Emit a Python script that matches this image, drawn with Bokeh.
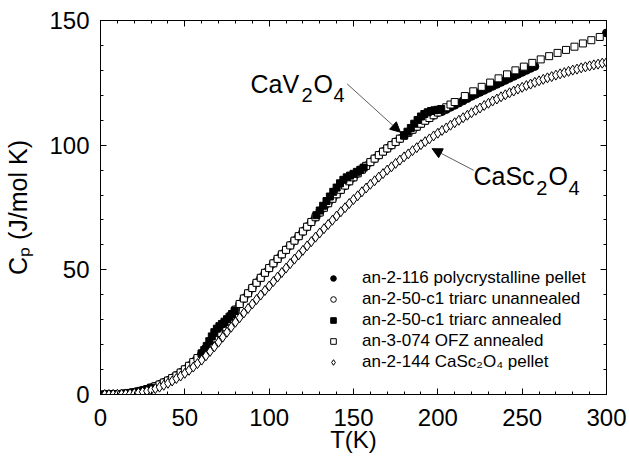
import math
from bokeh.plotting import figure
from bokeh.models import (Range1d, LinearAxis, SingleIntervalTicker, Legend, LegendItem,
                          Label, Arrow, NormalHead)
from bokeh.embed import file_html
from bokeh.resources import INLINE

FONT = "Liberation Sans"

# ---------------- data ----------------
# an-3-074 OFZ annealed (open squares): dense part T = 2.5 ... 210 K, step 2.5
ofz_cp_dense = [0.01, 0.03, 0.06, 0.12, 0.22, 0.38, 0.58, 0.85, 1.2, 1.6,
                2.1, 2.7, 3.3, 4.0, 4.8, 5.6, 6.6, 7.6, 8.8, 10.1,
                11.5, 13.0, 14.6, 16.3, 18.3, 20.3, 22.5, 24.7, 27.0, 29.3,
                31.6, 34.0, 36.3, 38.5, 40.6, 42.7, 44.8, 46.8, 48.8, 50.7,
                52.6, 54.4, 56.2, 58.0, 59.8, 61.7, 63.5, 65.4, 67.3, 69.2,
                71.1, 73.0, 74.9, 76.7, 78.5, 80.3, 82.1, 83.8, 85.5, 87.1,
                88.7, 90.2, 91.7, 93.2, 94.6, 96.0, 97.4, 98.7, 100.0, 101.3,
                102.6, 103.8, 105.0, 106.2, 107.4, 108.6, 109.8, 110.9, 112.0, 113.1,
                114.2, 115.2, 116.3, 117.3]
ofz_t_dense = [2.5 * (i + 1) for i in range(len(ofz_cp_dense))]
# sparse part
ofz_t_sparse = [216, 221, 226, 231, 236, 241, 246, 251, 256, 261, 266, 271, 276, 281, 286, 291, 296]
ofz_cp_sparse = [119.7, 121.6, 123.4, 125.1, 126.8, 128.4, 130.0, 131.5, 133.0, 134.4,
                 135.7, 137.0, 138.2, 139.5, 140.8, 142.1, 143.4]

# an-2-116 polycrystalline pellet (filled circles): T = 2.5 ... 257.5 K step 2.5, plus 300 K
pellet_cp = [0.01, 0.03, 0.06, 0.12, 0.22, 0.38, 0.58, 0.85, 1.2, 1.6,
             2.1, 2.7, 3.3, 4.0, 4.8, 5.6, 6.6, 7.6, 8.8, 10.1,
             11.5, 13.0, 14.6, 16.3, 18.3, 20.3, 22.5, 24.7, 27.0, 29.3,
             31.6, 34.0, 36.3, 38.5, 40.6, 42.7, 44.8, 46.8, 48.8, 50.7,
             52.6, 54.4, 56.2, 58.0, 59.8, 61.7, 63.5, 65.4, 67.3, 69.2,
             71.1, 73.0, 74.9, 76.7, 78.5, 80.3, 82.1, 83.8, 85.5, 87.1,
             88.7, 90.2, 91.7, 93.2, 94.6, 96.0, 97.4, 98.7, 100.0, 101.3,
             102.6, 103.8, 105.0, 106.2, 107.4, 108.6, 109.8, 110.9, 112.0, 113.1,
             113.5, 114.3, 115.2, 116.0, 116.9, 117.8, 118.7, 119.6, 120.4, 121.2,
             122.0, 122.8, 123.6, 124.4, 125.2, 126.0, 126.8, 127.6, 128.4, 129.2,
             130.0, 130.8, 131.6]
pellet_t = [2.5 * (i + 1) for i in range(len(pellet_cp))] + [300]
pellet_cp = pellet_cp + [145.0]

# an-2-50-c1 triarc unannealed (open circles)
unann_t = [4, 8, 12, 16, 20, 24, 28, 32, 36, 40, 44, 48, 52, 56]
unann_cp = [0.02, 0.08, 0.2, 0.45, 0.85, 1.45, 2.2, 3.2, 4.3, 5.6, 7.2, 9.0, 11.3, 13.6]

# an-2-50-c1 triarc annealed (filled squares)
ann_t = [2, 4, 6, 8, 10, 12, 14, 16, 18, 20, 22, 24, 26, 28, 30,
         60, 61.5, 63, 64.5, 66, 67.5, 69, 70.5, 72, 73.5, 75, 76.5, 78, 79.5,
         128, 130, 132, 134, 136, 138, 140, 142, 144, 146, 148, 150, 152, 154, 156,
         180, 182, 184, 186, 188, 190, 192, 194, 196, 198, 200, 202]
ann_cp = [0.0, 0.02, 0.05, 0.08, 0.12, 0.2, 0.3, 0.45, 0.65, 0.85, 1.15, 1.45, 1.8, 2.2, 2.7,
          16.5, 17.8, 19.5, 21.4, 23.3, 25.0, 26.4, 27.4, 28.3, 29.2, 30.2, 31.2, 32.3, 33.5,
          71.9, 73.8, 75.7, 77.6, 79.4, 81.3, 83.0, 84.7, 86.1, 87.1, 87.8, 88.5, 89.3, 90.1, 91.0,
          104.0, 105.4, 106.9, 108.6, 110.1, 111.5, 112.5, 113.2, 113.7, 114.0, 114.2, 114.5]

# an-2-144 CaSc2O4 pellet (open diamonds): T = 2.5 ... 300 K step 2.5
casc_cp = [0.0, 0.01, 0.03, 0.06, 0.12, 0.22, 0.35, 0.5, 0.75, 1.05,
           1.4, 1.8, 2.35, 2.95, 3.7, 4.5, 5.4, 6.4, 7.4, 8.5,
           9.7, 11.0, 12.4, 13.8, 15.5, 17.3, 19.1, 21.0, 23.0, 25.0,
           27.0, 29.0, 30.8, 32.7, 34.5, 36.3, 38.1, 39.9, 41.7, 43.5,
           45.3, 47.1, 48.9, 50.7, 52.5, 54.3, 56.0, 57.8, 59.6, 61.3,
           63.1, 64.8, 66.5, 68.2, 69.9, 71.6, 73.3, 74.9, 76.6, 78.2,
           79.7, 81.3, 82.8, 84.3, 85.7, 87.2, 88.6, 90.0, 91.3, 92.7,
           94.0, 95.3, 96.5, 97.8, 99.0, 100.2, 101.4, 102.5, 103.7, 104.8,
           105.9, 106.9, 108.0, 109.0, 110.0, 111.0, 112.0, 113.0, 114.0, 114.9,
           115.9, 116.8, 117.7, 118.5, 119.4, 120.2, 121.0, 121.7, 122.5, 123.2,
           123.9, 124.5, 125.2, 125.8, 126.4, 127.0, 127.5, 128.1, 128.6, 129.1,
           129.6, 130.1, 130.5, 131.0, 131.4, 131.8, 132.2, 132.5, 132.9, 133.2]
casc_t = [2.5 * (i + 1) for i in range(len(casc_cp))]

legend_labels = ["an-2-116 polycrystalline pellet",
                 "an-2-50-c1 triarc unannealed",
                 "an-2-50-c1 triarc annealed",
                 "an-3-074 OFZ annealed",
                 "an-2-144 CaSc\u2082O\u2084 pellet"]

# ---------------- figure ----------------
p = figure(width=629, height=460, output_backend="svg", toolbar_location=None,
           x_range=Range1d(0, 300), y_range=Range1d(0, 150),
           x_axis_type=None, y_axis_type=None,
           min_border_left=100, min_border_right=23, min_border_top=20, min_border_bottom=66)
p.outline_line_color = "black"
p.outline_line_width = 1
p.background_fill_color = "white"
p.border_fill_color = "white"


def make_axis(show):
    ax = LinearAxis(ticker=SingleIntervalTicker(interval=50, num_minor_ticks=5))
    ax.axis_line_color = "black"
    ax.axis_line_width = 1
    ax.major_tick_in = 6
    ax.major_tick_out = 0
    ax.minor_tick_in = 3
    ax.minor_tick_out = 0
    ax.major_tick_line_color = "black"
    ax.minor_tick_line_color = "black"
    if show:
        ax.major_label_text_font = FONT
        ax.major_label_text_font_size = "24px"
        ax.major_label_text_color = "black"
    else:
        ax.major_label_text_color = None
        ax.major_label_text_font_size = "1px"
        ax.major_label_standoff = 0
    return ax


xb = make_axis(True)
xb.major_label_standoff = 14
xb.axis_label = "T(K)"
xb.axis_label_text_font = FONT
xb.axis_label_text_font_size = "24px"
xb.axis_label_text_font_style = "normal"
xb.axis_label_text_color = "black"
xb.axis_label_standoff = -3
p.add_layout(xb, "below")

yl = make_axis(True)
yl.major_label_standoff = 11
yl.axis_label = "C\u209a (J/mol K)"
yl.axis_label_text_font = FONT
yl.axis_label_text_font_size = "25px"
yl.axis_label_text_font_style = "normal"
yl.axis_label_text_color = "black"
yl.axis_label_standoff = 14
p.add_layout(yl, "left")

p.add_layout(make_axis(False), "above")
p.add_layout(make_axis(False), "right")

# ---------------- data glyphs ----------------
r_unann = p.scatter(unann_t, unann_cp, marker="circle", size=7,
                    fill_color="white", line_color="black", line_width=1)
r_pellet = p.scatter(pellet_t, pellet_cp, marker="circle", size=8,
                     fill_color="black", line_color="black", line_width=1)
r_ofz_d = p.scatter(ofz_t_dense, ofz_cp_dense, marker="square", size=7,
                    fill_color="white", line_color="black", line_width=1)
r_ofz_s = p.scatter(ofz_t_sparse, ofz_cp_sparse, marker="square", size=7,
                    fill_color="white", line_color="black", line_width=1)
r_ann = p.scatter(ann_t, ann_cp, marker="square", size=7,
                  fill_color="black", line_color="black", line_width=1)
r_casc = p.scatter(casc_t, casc_cp, marker="diamond", size=10,
                   fill_color="white", line_color="black", line_width=1)

legend = Legend(items=[LegendItem(label=legend_labels[0], renderers=[r_pellet]),
                       LegendItem(label=legend_labels[1], renderers=[r_unann]),
                       LegendItem(label=legend_labels[2], renderers=[r_ann]),
                       LegendItem(label=legend_labels[3], renderers=[r_ofz_s]),
                       LegendItem(label=legend_labels[4], renderers=[r_casc])],
                location=(226, 22), orientation="vertical",
                border_line_color=None, background_fill_alpha=0,
                padding=0, margin=0, spacing=1,
                glyph_width=14, glyph_height=16, label_height=16, label_standoff=22,
                label_text_font=FONT, label_text_font_size="17px", label_text_color="black")
p.add_layout(legend)

# ---------------- annotations ----------------
def lab(x, y, text, size):
    p.add_layout(Label(x=x, y=y, text=text, text_font=FONT, text_font_size=size,
                       text_color="black", text_align="left", text_baseline="alphabetic"))

# CaV2O4 label
lab(88.9, 124.7, "CaV", "25px")
lab(119.1, 120.2, "2", "20px")
lab(126.3, 124.7, "O", "25px")
lab(138.1, 120.2, "4", "20px")
# CaSc2O4 label
lab(221.1, 87.8, "CaSc", "25px")
lab(258.4, 82.8, "2", "20px")
lab(265.6, 87.8, "O", "25px")
lab(277.4, 82.8, "4", "20px")

p.add_layout(Arrow(end=NormalHead(size=10, fill_color="black", line_color="black"),
                   x_start=146.2, y_start=124.6, x_end=177.8, y_end=105.2,
                   line_color="#333333", line_width=0.8))
p.add_layout(Arrow(end=NormalHead(size=10, fill_color="black", line_color="black"),
                   x_start=221.3, y_start=89.9, x_end=196.6, y_end=98.6,
                   line_color="#333333", line_width=0.8))

open("out.html", "w").write(file_html(p, INLINE))
